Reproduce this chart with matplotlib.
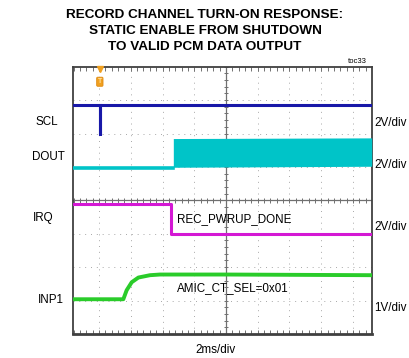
import matplotlib
matplotlib.use("Agg")
import matplotlib.pyplot as plt
import numpy as np

# ── Trace data (time in ms, level in divisions from screen centre) ──────────
scl_t = [-9.66, -7.95, -7.95, -7.95, 9.18]
scl_v = [2.84, 2.84, 1.95, 2.84, 2.84]

dout_low_t = [-9.66, -3.32]
dout_low_v = [0.98, 0.98]
dout_band_t = [-3.32, 9.18]
dout_band_lo = [0.99, 1.02]
dout_band_hi = [1.85, 1.87]

irq_t = [-9.66, -3.45, -3.45, 9.18]
irq_v = [-0.12, -0.12, -1.00, -1.00]

inp1_t = [-9.66, -6.47, -6.26, -5.94, -5.52, -4.79, -4.16, 0.0, 9.18]
inp1_v = [-2.96, -2.96, -2.69, -2.45, -2.31, -2.24, -2.22, -2.22, -2.24]

trig_t = -7.95

left_labels = ["SCL", "DOUT", "IRQ", "INP1"]
right_labels = ["2V/div", "2V/div", "2V/div", "1V/div"]

# ── Colours ─────────────────────────────────────────────────────────────────
BLUE = "#1818A8"
CYAN = "#00C4C8"
MAGENTA = "#D418D4"
GREEN = "#2ACC2A"
FRAME = "#404040"
GRID = "#A8A8A8"

FONT = ["Liberation Sans Narrow", "Liberation Sans", "DejaVu Sans"]

fig = plt.figure(figsize=(4.09, 3.58), dpi=100)
fig.patch.set_facecolor("white")
ax = fig.add_axes([72.7 / 409, (358 - 334) / 358, 299 / 409, 267.3 / 358])
ax.set_xlim(-9.66, 9.18)
ax.set_ylim(-4, 4)
ax.set_xticks([])
ax.set_yticks([])
for s in ax.spines.values():
    s.set_color(FRAME)
    s.set_linewidth(1.3)
ax.spines["bottom"].set_linewidth(2.0)

# grid
for gx in np.arange(-8, 9, 2):
    if gx != 0:
        ax.axvline(gx, color=GRID, lw=0.7, ls=(0, (1, 5)), zorder=1)
for gy in range(-3, 4):
    if gy != 0:
        ax.axhline(gy, color=GRID, lw=0.7, ls=(0, (1, 5)), zorder=1)
ax.axhline(0, color="#707070", lw=0.9, zorder=1)
ax.axvline(0, color="#707070", lw=0.9, zorder=1)

# minor ticks on centre lines and top/bottom edges
xt = np.arange(-9.6, 9.2, 0.4)
ax.vlines(xt, -0.07, 0.07, color="#707070", lw=0.7, zorder=1)
ax.vlines(xt, 3.88, 4.0, color="#707070", lw=0.7, zorder=1)
ax.vlines(xt, -4.0, -3.88, color="#707070", lw=0.7, zorder=1)
yt = np.arange(-4, 4.01, 0.2)
ax.hlines(yt, -0.12, 0.12, color="#707070", lw=0.7, zorder=1)

# traces
ax.plot(scl_t, scl_v, color=BLUE, lw=2.2, zorder=3, solid_joinstyle="miter")
ax.plot(dout_low_t, dout_low_v, color=CYAN, lw=2.6, zorder=3)
ax.fill_between(dout_band_t, dout_band_lo, dout_band_hi, color=CYAN, lw=0, zorder=3)
ax.plot(irq_t, irq_v, color=MAGENTA, lw=2.2, zorder=3)
ax.plot(inp1_t, inp1_v, color=GREEN, lw=2.8, zorder=3)

# trigger marker
ax.plot([trig_t], [3.93], marker="v", ms=4, color="#F0A020", zorder=4, clip_on=False)
ax.text(trig_t, 3.55, "T", ha="center", va="center", fontsize=5, color="#FFE0A0",
        family=FONT, fontweight="bold", zorder=4,
        bbox=dict(boxstyle="round,pad=0.15", fc="#F0A020", ec="#E08A10", lw=0.6))

# annotations inside plot
ax.text(-3.1, -0.57, "REC_PWRUP_DONE", ha="left", va="center", fontsize=8.4,
        family=FONT, color="black", zorder=5)
ax.text(-3.1, -2.62, "AMIC_CT_SEL=0x01", ha="left", va="center", fontsize=8.4,
        family=FONT, color="black", zorder=5)

# left labels
for (x, y), lab in zip([(35, 122), (32, 157), (33, 218), (38, 300)], left_labels):
    fig.text(x / 409, 1 - y / 358, lab, ha="left", va="center", fontsize=8.4,
             family=FONT, color="black")
# right labels
for y, lab in zip([123, 165, 227, 308], right_labels):
    fig.text(374 / 409, 1 - y / 358, lab, ha="left", va="center", fontsize=8.4,
             family=FONT, color="black")

fig.text(215 / 409, 1 - 350 / 358, "2ms/div", ha="center", va="center",
         fontsize=8.4, family=FONT, color="black")
fig.text(357 / 409, 1 - 61.5 / 358, "toc33", ha="center", va="center",
         fontsize=5.5, family=FONT, color="black")

title = ["RECORD CHANNEL TURN-ON RESPONSE:",
         "STATIC ENABLE FROM SHUTDOWN",
         "TO VALID PCM DATA OUTPUT"]
for i, line in enumerate(title):
    fig.text(205 / 409, 1 - (15.5 + 15.8 * i) / 358, line, ha="center", va="center",
             fontsize=9.7, fontweight="bold", family=FONT, color="black")

fig.savefig("out.png", dpi=100, facecolor="white")
